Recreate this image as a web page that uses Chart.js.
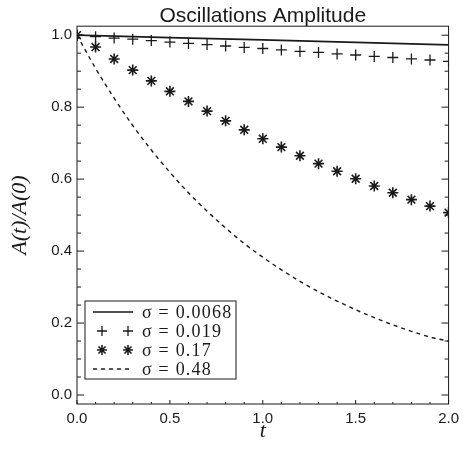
<!DOCTYPE html>
<html>
<head>
<meta charset="utf-8">
<script src="https://cdn.jsdelivr.net/npm/chart.js@4"></script>
<style>
html, body { margin: 0; background: #fff; }
#wrap { width: 465px; height: 450px; }
</style>
</head>
<body>
<div id="wrap"><canvas id="ampChart"></canvas></div>
<script>
// sample times
const tMarks = [0, 0.1, 0.2, 0.3, 0.4, 0.5, 0.6, 0.7, 0.8, 0.9, 1.0, 1.1, 1.2, 1.3, 1.4, 1.5, 1.6, 1.7, 1.8, 1.9, 2.0]
const tSolid = [0, 0.5, 1.0, 1.5, 2.0]

// A(t)/A(0)
const ampS0068 = [1.0, 0.993, 0.987, 0.980, 0.973]
const ampS019 = [1.0, 0.996, 0.992, 0.989, 0.985, 0.981, 0.977, 0.974, 0.970, 0.966, 0.963, 0.959, 0.955, 0.952, 0.948, 0.945, 0.941, 0.938, 0.934, 0.931, 0.927]
const ampS17 = [1.0, 0.967, 0.934, 0.903, 0.873, 0.844, 0.816, 0.789, 0.762, 0.737, 0.712, 0.689, 0.665, 0.643, 0.622, 0.601, 0.581, 0.562, 0.543, 0.525, 0.507]
const ampS48 = [1.0, 0.908, 0.825, 0.749, 0.681, 0.619, 0.562, 0.511, 0.464, 0.421, 0.383, 0.348, 0.316, 0.287, 0.261, 0.237, 0.215, 0.195, 0.177, 0.161, 0.150]

const legendLabels = ['σ = 0.0068', 'σ = 0.019', 'σ = 0.17', 'σ = 0.48']
const xTicks = [0, 0.5, 1.0, 1.5, 2.0]
const yTicks = [0, 0.2, 0.4, 0.6, 0.8, 1.0]
const xMinor = [0.1, 0.2, 0.3, 0.4, 0.6, 0.7, 0.8, 0.9, 1.1, 1.2, 1.3, 1.4, 1.6, 1.7, 1.8, 1.9]
const yMinor = [0.05, 0.1, 0.15, 0.25, 0.3, 0.35, 0.45, 0.5, 0.55, 0.65, 0.7, 0.75, 0.85, 0.9, 0.95]

const ink = '#1a1a1a'

function pts(xs, ys) {
    return ys.map((y, i) => ({x: xs[i], y: y}))
}

function drawMark(ctx, style, x, y, r) {
    ctx.beginPath()
    ctx.moveTo(x - r, y); ctx.lineTo(x + r, y)
    ctx.moveTo(x, y - r); ctx.lineTo(x, y + r)
    if (style === 'star') {
        const d = r * 0.707
        ctx.moveTo(x - d, y - d); ctx.lineTo(x + d, y + d)
        ctx.moveTo(x - d, y + d); ctx.lineTo(x + d, y - d)
    }
    ctx.stroke()
}

// box, inward ticks and the legend inside the plot
const frame = {
    id: 'frame',
    afterDraw(chart) {
        const ctx = chart.ctx
        const a = chart.chartArea
        const xs = chart.scales.x, ys = chart.scales.y
        ctx.save()
        ctx.strokeStyle = ink
        ctx.lineWidth = 1
        ctx.strokeRect(a.left, a.top, a.right - a.left, a.bottom - a.top)
        ctx.beginPath()
        xTicks.concat(xMinor).forEach(v => {
            const px = xs.getPixelForValue(v)
            const len = xTicks.includes(v) ? 4 : 2
            ctx.moveTo(px, a.bottom); ctx.lineTo(px, a.bottom - len)
        })
        yTicks.concat(yMinor).forEach(v => {
            const py = ys.getPixelForValue(v)
            const len = yTicks.includes(v) ? 7 : 4
            ctx.moveTo(a.left, py); ctx.lineTo(a.left + len, py)
            ctx.moveTo(a.right, py); ctx.lineTo(a.right - len, py)
        })
        ctx.stroke()

        // legend
        const bx = 85, by = 301, bw = 151, bh = 78
        ctx.fillStyle = '#fff'
        ctx.fillRect(bx, by, bw, bh)
        ctx.strokeRect(bx, by, bw, bh)
        ctx.font = '18px "Liberation Serif"'
        ctx.letterSpacing = '1.2px'
        ctx.textBaseline = 'middle'
        chart.data.datasets.forEach((ds, i) => {
            const ry = by + 11 + i * 19
            ctx.strokeStyle = ink
            ctx.fillStyle = ink
            if (ds.showLine) {
                ctx.lineWidth = ds.borderWidth
                ctx.setLineDash(ds.borderDash || [])
                ctx.beginPath()
                ctx.moveTo(93, ry); ctx.lineTo(133, ry)
                ctx.stroke()
                ctx.setLineDash([])
            } else {
                ctx.lineWidth = ds.pointBorderWidth
                drawMark(ctx, ds.pointStyle, 102, ry, ds.pointRadius - 0.5)
                drawMark(ctx, ds.pointStyle, 128, ry, ds.pointRadius - 0.5)
            }
            ctx.fillText(legendLabels[i], 142, ry + 1)
        })
        ctx.letterSpacing = '0px'
        ctx.restore()
    }
}

const ampChart = new Chart(document.getElementById('ampChart').getContext('2d'), {
    type: 'scatter',
    data: {
        datasets: [{
            label: legendLabels[0],
            data: pts(tSolid, ampS0068),
            showLine: true,
            borderColor: ink,
            borderWidth: 1.7,
            pointRadius: 0
        }, {
            label: legendLabels[1],
            data: pts(tMarks, ampS019),
            showLine: false,
            pointStyle: 'cross',
            pointRadius: 5.5,
            pointBorderWidth: 1.3,
            borderColor: ink,
            backgroundColor: ink
        }, {
            label: legendLabels[2],
            data: pts(tMarks, ampS17),
            showLine: false,
            pointStyle: 'star',
            pointRadius: 5.5,
            pointBorderWidth: 1.6,
            borderColor: ink,
            backgroundColor: ink
        }, {
            label: legendLabels[3],
            data: pts(tMarks, ampS48),
            showLine: true,
            borderColor: ink,
            borderWidth: 1.4,
            borderDash: [4, 4],
            pointRadius: 0,
            cubicInterpolationMode: 'monotone'
        }]
    },
    options: {
        responsive: true,
        maintainAspectRatio: false,
        animation: false,
        layout: {padding: {top: 0, right: 13, left: 0, bottom: 0}},
        plugins: {
            legend: {display: false},
            tooltip: {enabled: false},
            title: {
                display: true,
                fullSize: false,
                text: 'Oscillations Amplitude',
                color: ink,
                font: {family: '"Liberation Sans"', size: 21, weight: 'normal'},
                padding: {top: 4, bottom: -3}
            }
        },
        scales: {
            x: {
                type: 'linear',
                min: 0,
                max: 2,
                afterBuildTicks: s => { s.ticks = xTicks.map(v => ({value: v})) },
                afterFit: s => { s.height = 46 },
                grid: {display: false, drawTicks: false},
                border: {display: false},
                ticks: {
                    color: ink,
                    padding: 6,
                    maxRotation: 0,
                    font: {family: '"Liberation Sans"', size: 15},
                    callback: v => Number(v).toFixed(1)
                },
                title: {
                    display: true,
                    text: 't',
                    color: ink,
                    padding: {top: 0, bottom: 6},
                    font: {family: '"Liberation Serif"', size: 22, style: 'italic'}
                }
            },
            y: {
                type: 'linear',
                min: -0.025,
                max: 1.025,
                afterBuildTicks: s => { s.ticks = yTicks.map(v => ({value: v})) },
                afterFit: s => { s.width = 77 },
                grid: {display: false, drawTicks: false},
                border: {display: false},
                ticks: {
                    color: ink,
                    padding: 5,
                    font: {family: '"Liberation Sans"', size: 15},
                    callback: v => Number(v).toFixed(1)
                },
                title: {
                    display: true,
                    text: 'A(t)/A(0)',
                    color: ink,
                    padding: {top: 7, bottom: 0},
                    font: {family: '"Liberation Serif"', size: 22, style: 'italic'}
                }
            }
        }
    },
    plugins: [frame]
})
</script>
</body>
</html>
